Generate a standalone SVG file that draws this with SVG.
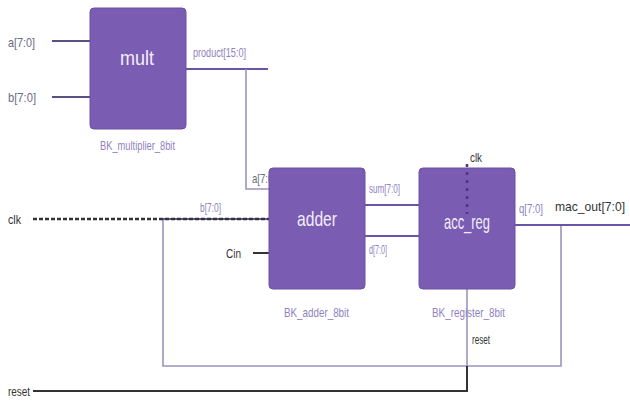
<svg xmlns="http://www.w3.org/2000/svg" width="630" height="401" viewBox="0 0 630 401">
<style>
.box{fill:#7a5cb2;stroke:#6d50a6;stroke-width:1}
.title{font-family:"Liberation Sans",Arial,sans-serif;fill:#f2eefa;font-size:21px}
.lbl{font-family:"Liberation Sans",Arial,sans-serif;fill:#6a6a80;font-size:13px}
.plbl{font-family:"Liberation Sans",Arial,sans-serif;fill:#8f82bf;font-size:13px}
.dlbl{font-family:"Liberation Sans",Arial,sans-serif;fill:#333;font-size:13px}
.w{fill:none;stroke:#5a4f86;stroke-width:2}
.p{fill:none;stroke:#6a54a6;stroke-width:2}
.f{fill:none;stroke:#9c93bf;stroke-width:1.6}
.d{fill:none;stroke:#333;stroke-width:2}
.clk{fill:none;stroke:#333;stroke-width:2.5;stroke-dasharray:4 2}
.clki{fill:none;stroke:#4a3a80;stroke-width:2.5;stroke-dasharray:3 5}
</style>
<rect width="630" height="401" fill="#ffffff"/>
<g id="connectors">
<line class="w" x1="52" y1="41" x2="90" y2="41"/>
<line class="w" x1="52" y1="97" x2="90" y2="97"/>
<polyline class="p" points="186,69 268,69"/>
<polyline class="f" points="246,69 246,189 269,189"/>
<polyline class="f" points="163,219 163,366 561,366 561,225"/>
<line class="p" x1="163" y1="219" x2="269" y2="219"/>
<line class="clk" x1="33" y1="219" x2="269" y2="219"/>
<line class="d" x1="253" y1="253" x2="269" y2="253"/>
<line class="p" x1="365" y1="205" x2="419" y2="205"/>
<line class="p" x1="365" y1="236" x2="419" y2="236"/>
<line class="p" x1="515" y1="225" x2="630" y2="225"/>
<line class="f" x1="467" y1="289" x2="467" y2="366"/>
<polyline class="d" points="467,366 467,391 33,391"/>
</g>
<g id="mult">
<text class="lbl" x="8" y="47" textLength="27" lengthAdjust="spacingAndGlyphs">a[7:0]</text>
<text class="lbl" x="8" y="102" textLength="28" lengthAdjust="spacingAndGlyphs">b[7:0]</text>
<rect class="box" x="90" y="8" width="96" height="121" rx="4"/>
<text class="title" x="137" y="65" text-anchor="middle" textLength="34" lengthAdjust="spacingAndGlyphs">mult</text>
<text class="plbl" x="193" y="57" textLength="53" lengthAdjust="spacingAndGlyphs">product[15:0]</text>
<text class="plbl" x="100" y="150" textLength="75" lengthAdjust="spacingAndGlyphs">BK_multiplier_8bit</text>
</g>
<g id="adder">
<text class="lbl" x="252" y="183" textLength="24" lengthAdjust="spacingAndGlyphs">a[7:0]</text>
<text class="plbl" x="200" y="212" textLength="21" lengthAdjust="spacingAndGlyphs">b[7:0]</text>
<text class="dlbl" x="8" y="224" textLength="13" lengthAdjust="spacingAndGlyphs">clk</text>
<text class="dlbl" x="226" y="258" textLength="15" lengthAdjust="spacingAndGlyphs">Cin</text>
<rect class="box" x="269" y="168" width="96" height="121" rx="4"/>
<text class="title" x="317" y="226" text-anchor="middle" textLength="40" lengthAdjust="spacingAndGlyphs">adder</text>
<text class="plbl" x="284" y="317" textLength="65" lengthAdjust="spacingAndGlyphs">BK_adder_8bit</text>
<text class="plbl" x="369" y="193" textLength="31" lengthAdjust="spacingAndGlyphs">sum[7:0]</text>
<text class="plbl" x="369" y="254" textLength="18" lengthAdjust="spacingAndGlyphs">d[7:0]</text>
</g>
<g id="acc_reg">
<rect class="box" x="419" y="168" width="96" height="121" rx="4"/>
<text class="dlbl" x="470" y="162" textLength="12" lengthAdjust="spacingAndGlyphs">clk</text>
<line class="clki" x1="467" y1="164" x2="467" y2="214"/>
<text class="title" x="467" y="229" text-anchor="middle" textLength="46" lengthAdjust="spacingAndGlyphs">acc_reg</text>
<text class="plbl" x="432" y="317" textLength="73" lengthAdjust="spacingAndGlyphs">BK_register_8bit</text>
<text class="dlbl" x="472" y="344" textLength="18" lengthAdjust="spacingAndGlyphs">reset</text>
<text class="plbl" x="519" y="213" textLength="24" lengthAdjust="spacingAndGlyphs">q[7:0]</text>
<text class="dlbl" x="555" y="211" textLength="70" lengthAdjust="spacingAndGlyphs">mac_out[7:0]</text>
<text class="dlbl" x="8" y="396" textLength="22" lengthAdjust="spacingAndGlyphs">reset</text>
</g>
</svg>
